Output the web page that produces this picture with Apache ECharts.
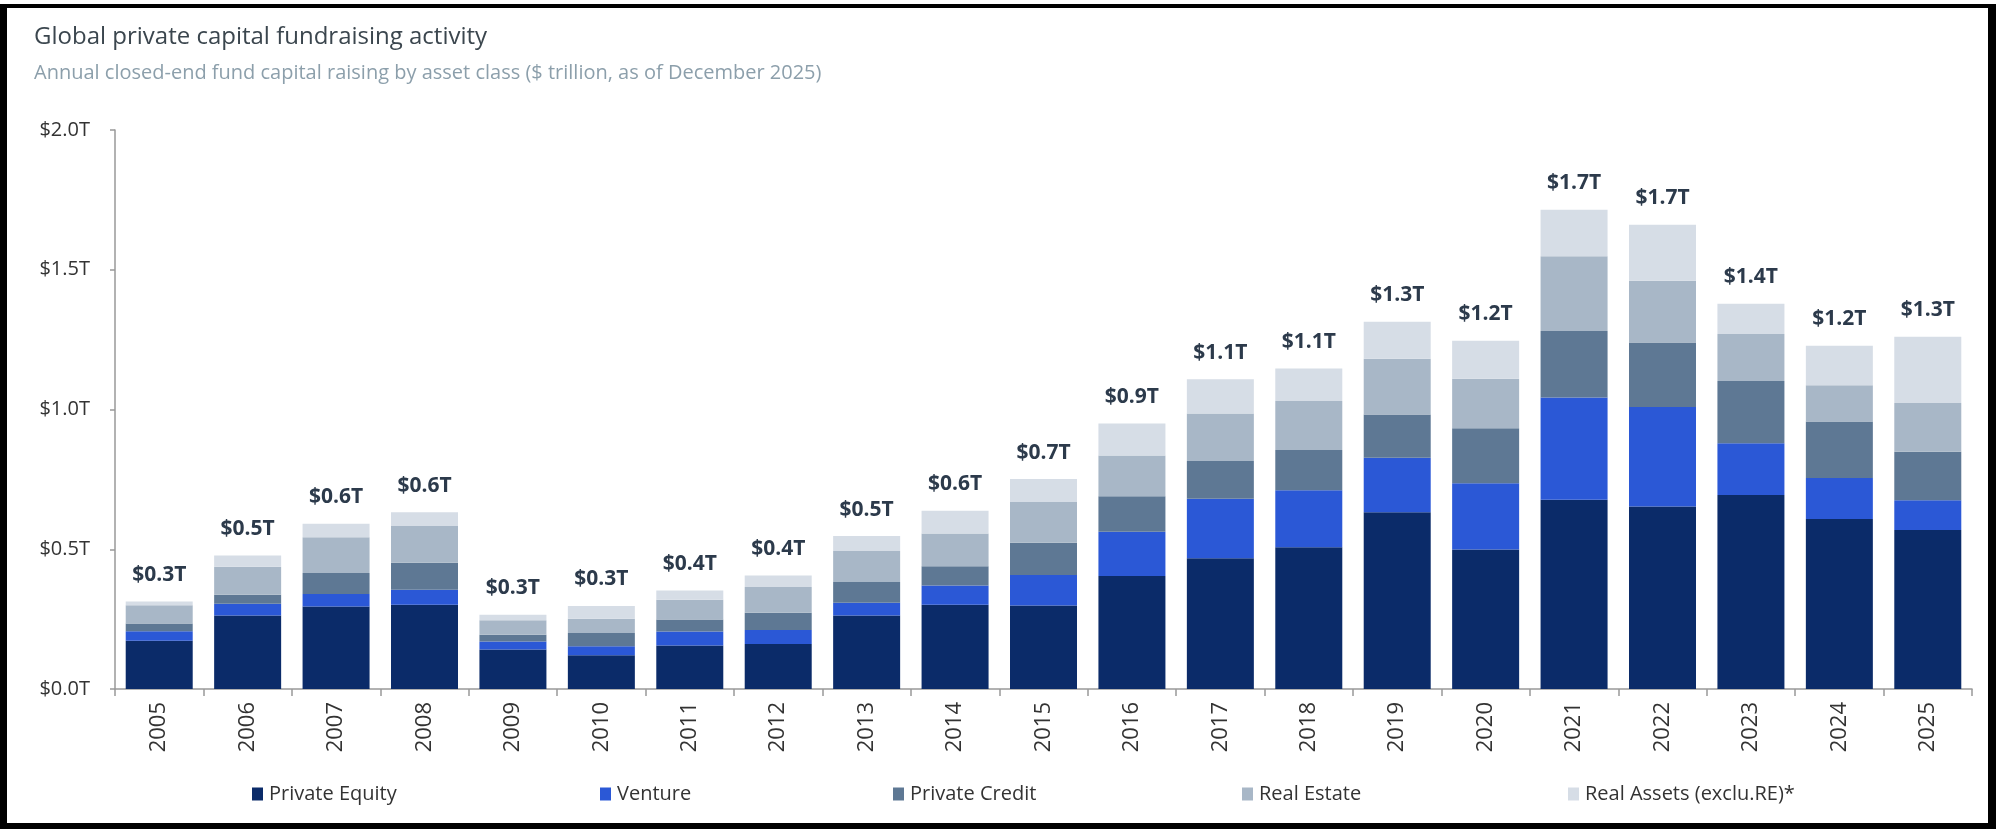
<!DOCTYPE html>
<html>
<head>
<meta charset="utf-8">
<script src="https://cdn.jsdelivr.net/npm/echarts@6.0.0/dist/echarts.min.js"></script>
<style>
  html, body { margin: 0; padding: 0; background: #fff; }
  #chart { width: 2000px; height: 833px; }
  .frame {
    position: absolute; left: 0; top: 4px; width: 1996px; height: 825px;
    box-sizing: border-box; border-style: solid; border-color: #000;
    border-width: 4px 8px 6px 7px; pointer-events: none;
  }
</style>
</head>
<body>
<div id="chart"></div>
<div class="frame"></div>
<script>
// years on the x axis
var years = ['2005','2006','2007','2008','2009','2010','2011','2012','2013','2014','2015',
             '2016','2017','2018','2019','2020','2021','2022','2023','2024','2025'];

// $ trillion per asset class
var privateEquity = [0.173,0.263,0.295,0.301,0.141,0.121,0.156,0.161,0.263,0.301,0.299,
                     0.404,0.468,0.507,0.632,0.499,0.677,0.653,0.694,0.608,0.569];
var venture       = [0.034,0.042,0.045,0.054,0.029,0.032,0.050,0.050,0.046,0.069,0.109,
                     0.159,0.213,0.204,0.195,0.237,0.366,0.356,0.185,0.147,0.106];
var privateCredit = [0.027,0.032,0.075,0.097,0.024,0.047,0.043,0.062,0.074,0.069,0.115,
                     0.127,0.135,0.144,0.155,0.197,0.238,0.231,0.223,0.202,0.174];
var realEstate    = [0.066,0.100,0.128,0.131,0.052,0.051,0.070,0.092,0.111,0.117,0.146,
                     0.145,0.170,0.175,0.200,0.177,0.267,0.221,0.168,0.130,0.174];
var realAssets    = [0.013,0.041,0.048,0.049,0.020,0.046,0.033,0.041,0.053,0.082,0.082,
                     0.115,0.122,0.117,0.132,0.136,0.167,0.200,0.108,0.141,0.237];

// total labels printed above each bar
var totalLabels = ['$0.3T','$0.5T','$0.6T','$0.6T','$0.3T','$0.3T','$0.4T','$0.4T','$0.5T','$0.6T','$0.7T',
                   '$0.9T','$1.1T','$1.1T','$1.3T','$1.2T','$1.7T','$1.7T','$1.4T','$1.2T','$1.3T'];

var yTicks = ['$0.0T','$0.5T','$1.0T','$1.5T','$2.0T'];

var names = ['Private Equity','Venture','Private Credit','Real Estate','Real Assets (exclu.RE)*'];
var colors = ['#0b2b69','#2b58d6','#5e7894','#a8b7c7','#d6dde6'];
var values = [privateEquity, venture, privateCredit, realEstate, realAssets];
var legendLeft = [252, 600, 893, 1242, 1568];

var font = '"Open Sans", "Liberation Sans", Arial, sans-serif';

var chart = echarts.init(document.getElementById('chart'));

var series = names.map(function (n, i) {
  var s = {
    name: n,
    type: 'bar',
    stack: 'total',
    data: values[i],
    barWidth: 67,
    itemStyle: { color: colors[i] },
    emphasis: { disabled: true }
  };
  if (i === names.length - 1) {
    s.label = {
      show: true,
      position: 'top',
      distance: 16,
      fontFamily: font,
      fontSize: 21,
      fontWeight: 'bold',
      color: '#2c3a4b',
      formatter: function (p) { return totalLabels[p.dataIndex]; }
    };
  }
  return s;
});

var legends = names.map(function (n, i) {
  return {
    data: [n],
    left: legendLeft[i],
    top: 783,
    padding: 0,
    icon: 'rect',
    itemWidth: 11,
    itemHeight: 13,
    itemGap: 6,
    selectedMode: false,
    textStyle: { fontFamily: font, fontSize: 20, color: '#333', lineHeight: 22, padding: [0, 0, 0, 1] }
  };
});

chart.setOption({
  animation: false,
  backgroundColor: '#fff',
  color: colors,
  title: [
    {
      text: 'Global private capital fundraising activity',
      left: 29, top: 20,
      textStyle: { fontFamily: font, fontSize: 24, fontWeight: 'normal', color: '#3b464e' }
    },
    {
      text: 'Annual closed-end fund capital raising by asset class ($ trillion, as of December 2025)',
      left: 29, top: 58,
      textStyle: { fontFamily: font, fontSize: 20, fontWeight: 'normal', color: '#8c9fab' }
    }
  ],
  legend: legends,
  grid: { left: 115, right: 28, top: 130, bottom: 144, containLabel: false },
  xAxis: {
    type: 'category',
    data: years,
    axisLine: { lineStyle: { color: '#999', width: 1.5 } },
    axisTick: { show: true, length: 7, lineStyle: { color: '#999', width: 1.5 } },
    axisLabel: {
      rotate: 90, margin: 13, interval: 0,
      fontFamily: font, fontSize: 22, color: '#333'
    }
  },
  yAxis: {
    type: 'value',
    min: 0, max: 2, interval: 0.5,
    axisLine: { show: true, lineStyle: { color: '#999', width: 1.5 } },
    axisTick: { show: true, length: 5, lineStyle: { color: '#999', width: 1.5 } },
    splitLine: { show: false },
    axisLabel: {
      margin: 25, fontFamily: font, fontSize: 20, color: '#333',
      formatter: function (v) { return yTicks[Math.round(v / 0.5)]; }
    }
  },
  series: series
});
</script>
</body>
</html>
